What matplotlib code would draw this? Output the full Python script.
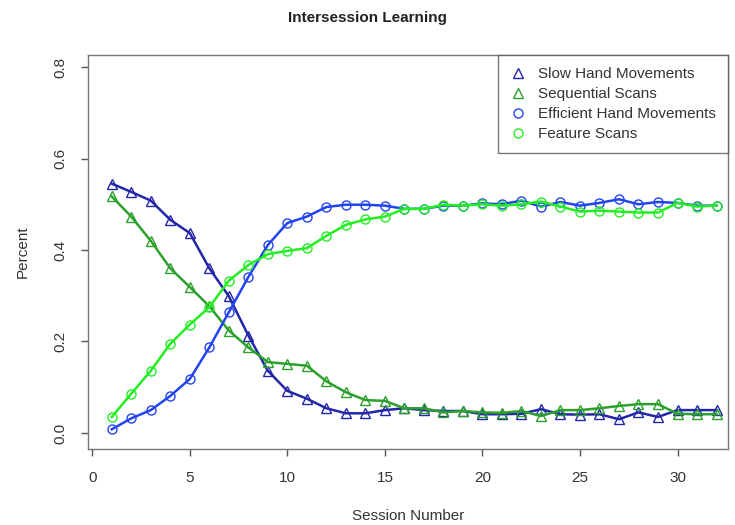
import matplotlib
matplotlib.use("Agg")
import matplotlib.pyplot as plt

plt.rcParams["font.family"] = ["Liberation Sans", "DejaVu Sans"]

sessions = list(range(1, 33))

slow_hand = [0.545, 0.527, 0.508, 0.466, 0.437, 0.360, 0.299, 0.213, 0.136, 0.092,
             0.075, 0.054, 0.043, 0.043, 0.050, 0.054, 0.050, 0.048, 0.048, 0.041,
             0.041, 0.042, 0.052, 0.041, 0.040, 0.041, 0.030, 0.045, 0.035, 0.050,
             0.050, 0.050]
sequential = [0.517, 0.473, 0.420, 0.360, 0.319, 0.277, 0.224, 0.187, 0.155, 0.151,
              0.147, 0.113, 0.089, 0.072, 0.070, 0.054, 0.054, 0.045, 0.048, 0.045,
              0.044, 0.048, 0.037, 0.050, 0.050, 0.054, 0.059, 0.063, 0.063, 0.042,
              0.041, 0.041]
efficient = [0.008, 0.032, 0.050, 0.081, 0.118, 0.187, 0.264, 0.341, 0.411, 0.459,
             0.473, 0.494, 0.499, 0.499, 0.497, 0.490, 0.490, 0.497, 0.497, 0.502,
             0.500, 0.508, 0.495, 0.505, 0.497, 0.503, 0.511, 0.500, 0.505, 0.503,
             0.497, 0.497]
feature = [0.035, 0.086, 0.136, 0.195, 0.237, 0.275, 0.333, 0.367, 0.391, 0.398,
           0.404, 0.431, 0.455, 0.467, 0.473, 0.490, 0.490, 0.499, 0.497, 0.500,
           0.497, 0.500, 0.506, 0.495, 0.484, 0.486, 0.484, 0.482, 0.482, 0.503,
           0.495, 0.497]

series = [
    ("Slow Hand Movements", slow_hand, "#2326a8", "^"),
    ("Sequential Scans", sequential, "#2ca02c", "^"),
    ("Efficient Hand Movements", efficient, "#2244f0", "o"),
    ("Feature Scans", feature, "#22ee22", "o"),
]

fig = plt.figure(figsize=(7.35, 5.25), dpi=100)
ax = fig.add_axes([0.1197, 0.1448, 0.8703, 0.751])

for name, vals, col, mk in series:
    ax.plot(sessions, vals, color=col, lw=1.8, marker=mk, markersize=6.5,
            markerfacecolor="none", markeredgecolor=col, markeredgewidth=1.0,
            label=name)

ax.set_xlim(-0.22, 32.57)
ax.set_ylim(-0.035, 0.827)
ax.set_xticks([0, 5, 10, 15, 20, 25, 30])
ax.set_yticks([0.0, 0.2, 0.4, 0.6, 0.8])
ax.set_yticklabels(["0.0", "0.2", "0.4", "0.6", "0.8"], rotation=90, va="center")

for s in ax.spines.values():
    s.set_color("#777777")
    s.set_linewidth(1.0)
ax.tick_params(axis="both", colors="#555555", labelcolor="#333333",
               labelsize=11, length=5, width=1)
ax.tick_params(axis="x", pad=11)
ax.tick_params(axis="y", pad=10)

ax.set_xlabel("Session Number", fontsize=11, color="#333333", labelpad=17)
ax.set_ylabel("Percent", fontsize=11, color="#333333", labelpad=17)
fig.text(0.5, 0.965, "Intersession Learning", ha="center", va="center",
         fontsize=11, fontweight="bold", color="#222222")

leg = ax.legend(loc="upper right", fontsize=11, frameon=True, fancybox=False,
                handlelength=1.0, handletextpad=0.8, labelspacing=0.4,
                borderaxespad=0.0, borderpad=0.8)
leg.get_frame().set_edgecolor("#555555")
leg.get_frame().set_linewidth(1.0)
for h in leg.get_lines():
    h.set_linestyle("none")
for t in leg.get_texts():
    t.set_color("#333333")

fig.savefig("out.png", dpi=100)
